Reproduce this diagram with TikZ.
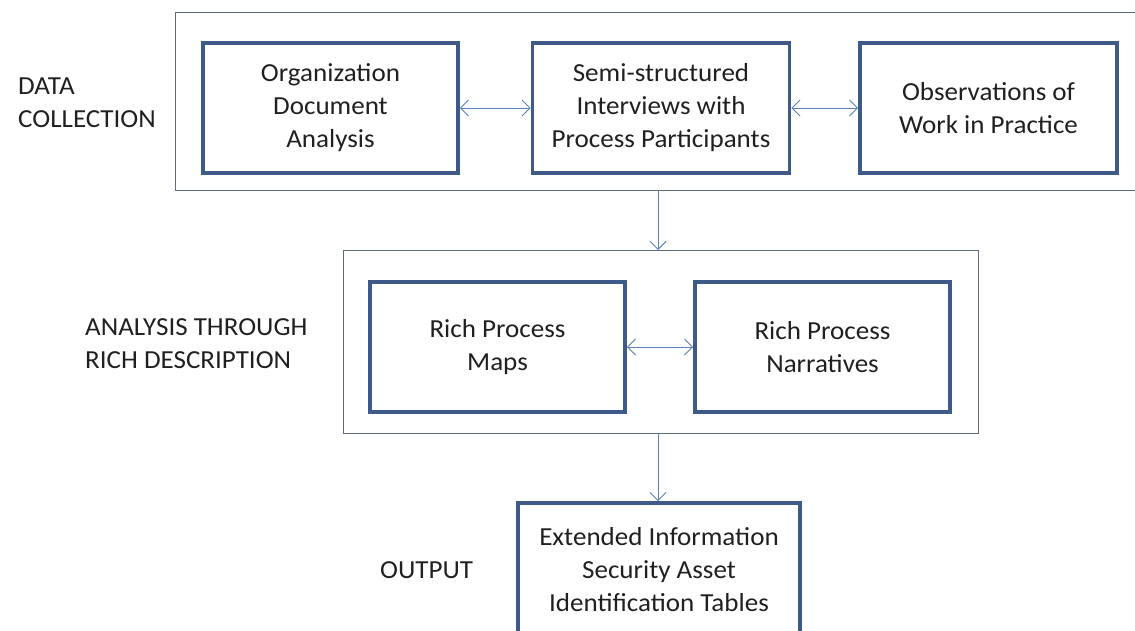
\documentclass[tikz,border=0pt]{standalone}
\usepackage{fontspec}
\setmainfont{Carlito}[FakeStretch=1.04]
\usetikzlibrary{arrows.meta,shadows}
\definecolor{boxblue}{HTML}{3D5A88}
\definecolor{framegray}{HTML}{5F6B78}
\definecolor{arrowblue}{HTML}{5B80B4}
\definecolor{textgray}{HTML}{202020}
\tikzset{
  stepbox/.style={draw=boxblue, line width=3.6pt, fill=white, align=center,
    inner sep=0pt, text=textgray, font=\fontsize{26}{33}\selectfont,
    drop shadow={shadow xshift=1.5pt, shadow yshift=-1.5pt, opacity=0.3, fill=gray}},
  frame/.style={draw=framegray, line width=0.9pt},
  link/.style={draw=arrowblue, line width=1pt, {Straight Barb[length=8pt,width=16pt]}-{Straight Barb[length=8pt,width=16pt]}},
  flow/.style={draw=arrowblue, line width=1pt, -{Straight Barb[length=8pt,width=16pt]}},
  phase/.style={align=left, text=textgray, font=\fontsize{26}{33}\selectfont, inner sep=0pt, anchor=west}
}
\begin{document}
\begin{tikzpicture}[x=1pt,y=-1pt]
\useasboundingbox (0,0) rectangle (1135,630);
\clip (0,0) rectangle (1135,630);
% frames
\node[frame, minimum width=980pt, minimum height=178pt, inner sep=0pt, anchor=north west] (f1) at (175,12) {};
\node[frame, minimum width=635pt, minimum height=183pt, inner sep=0pt, anchor=north west] (f2) at (343,250) {};
% row 1
\node[stepbox, minimum width=255pt, minimum height=130pt] (a) at (330.5,108) {Organization\\Document\\Analysis};
\node[stepbox, minimum width=257pt, minimum height=130pt] (b) at (661,108) {Semi-structured\\Interviews with\\Process Participants};
\node[stepbox, minimum width=257pt, minimum height=130pt] (c) at (988.5,108) {Observations of\\Work in Practice};
% row 2
\node[stepbox, minimum width=255pt, minimum height=130pt] (d) at (497.5,347) {Rich Process\\Maps};
\node[stepbox, minimum width=255pt, minimum height=130pt] (e) at (822.5,347) {Rich Process\\Narratives};
% output
\node[stepbox, minimum width=282pt, minimum height=134pt] (g) at (659,570) {Extended Information\\Security Asset\\Identification Tables};
% labels
\node[phase] (l1) at (18,103) {DATA\\COLLECTION};
\node[phase] (l2) at (85,344) {ANALYSIS THROUGH\\RICH DESCRIPTION};
\node[phase] (l3) at (380,570) {OUTPUT};
% connectors
\draw[link] (a.east) -- (b.west);
\draw[link] (b.east) -- (c.west);
\draw[link] (d.east) -- (e.west);
\coordinate (t1) at (658,190);
\coordinate (t2) at (658,433);
\draw[flow] (t1) -- (f2.north -| t1);
\draw[flow] (t2) -- (g.north -| t2);
\end{tikzpicture}
\end{document}
